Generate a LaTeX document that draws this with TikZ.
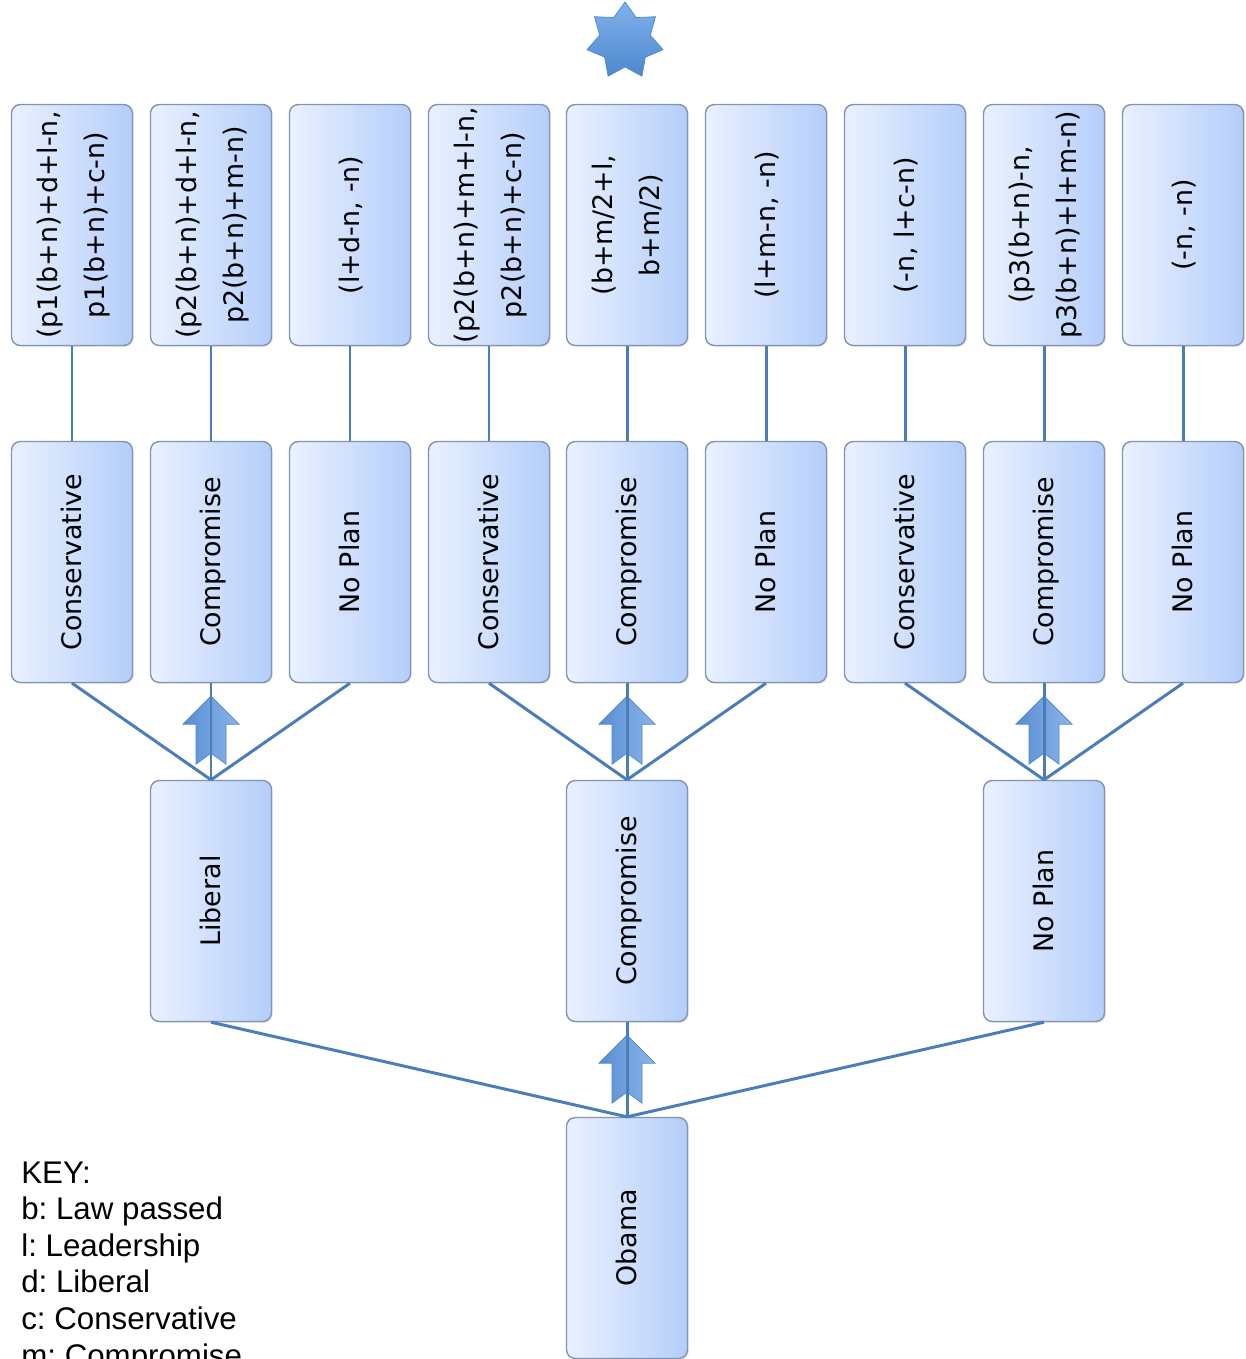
\documentclass[tikz,border=0pt]{standalone}
\usepackage{fontspec}
\usetikzlibrary{shapes.geometric,shadows}
\newfontfamily\boxfont{DejaVu Sans}
\newfontfamily\keyfont{Liberation Sans}
\frenchspacing
\definecolor{boxL}{RGB}{234,241,255}
\definecolor{boxR}{RGB}{180,206,250}
\definecolor{boxE}{RGB}{130,148,178}
\definecolor{linkB}{RGB}{74,125,185}
\definecolor{arrL}{RGB}{88,140,210}
\definecolor{arrR}{RGB}{140,182,234}
\definecolor{starT}{RGB}{128,178,236}
\definecolor{starB}{RGB}{78,136,206}
\newcommand{\vlab}[1]{\rotatebox{90}{\begin{tabular}{@{}c@{}}#1\end{tabular}}}

\begin{document}
\begin{tikzpicture}[x=0.02cm,y=-0.02cm,
  box/.style={draw=boxE,line width=0.8pt,rounded corners=5pt,left color=boxL,right color=boxR,
    minimum width=2.42cm,minimum height=4.82cm,inner sep=0pt,
    font=\boxfont\fontsize{15.3}{26.7}\selectfont,
    drop shadow={opacity=0.18,shadow xshift=0.8pt,shadow yshift=-0.8pt}},
  link/.style={linkB,line width=1.7pt},
  pick/.style={left color=arrL,right color=arrR,draw=starB,line width=0.4pt},
  keyline/.style={anchor=base west,inner sep=0pt,font=\keyfont\fontsize{17.8}{21}\selectfont}]
\useasboundingbox (0,0) rectangle (1246,1359);
% goal
\node[star,star points=7,star point ratio=1.5,minimum size=1.56cm,inner sep=0pt,
  top color=starT,bottom color=starB,draw=starB,line width=0.4pt] (goal) at (625,41) {};
% payoffs
\node[box] (u1) at (72,225) {\vlab{(p1(b+n)+d+l-n,\\ p1(b+n)+c-n)}};
\node[box] (u2) at (211,225) {\vlab{(p2(b+n)+d+l-n,\\ p2(b+n)+m-n)}};
\node[box] (u3) at (350,225) {\vlab{(l+d-n, -n)}};
\node[box] (u4) at (489,225) {\vlab{(p2(b+n)+m+l-n,\\ p2(b+n)+c-n)}};
\node[box] (u5) at (627,225) {\vlab{(b+m/2+l,\\ b+m/2)}};
\node[box] (u6) at (766,225) {\vlab{(l+m-n, -n)}};
\node[box] (u7) at (905,225) {\vlab{(-n, l+c-n)}};
\node[box] (u8) at (1044,225) {\vlab{(p3(b+n)-n,\\ p3(b+n)+l+m-n)}};
\node[box] (u9) at (1183,225) {\vlab{(-n, -n)}};
% responses
\node[box] (r1) at (72,562) {\vlab{Conservative}};
\node[box] (r2) at (211,562) {\vlab{Compromise}};
\node[box] (r3) at (350,562) {\vlab{No Plan}};
\node[box] (r4) at (489,562) {\vlab{Conservative}};
\node[box] (r5) at (627,562) {\vlab{Compromise}};
\node[box] (r6) at (766,562) {\vlab{No Plan}};
\node[box] (r7) at (905,562) {\vlab{Conservative}};
\node[box] (r8) at (1044,562) {\vlab{Compromise}};
\node[box] (r9) at (1183,562) {\vlab{No Plan}};
% Obama's moves
\node[box] (o1) at (211,901) {\vlab{Liberal}};
\node[box] (o2) at (627,901) {\vlab{Compromise}};
\node[box] (o3) at (1044,901) {\vlab{No Plan}};
\node[box] (obama) at (627,1238) {\vlab{Obama}};
% chosen moves
\foreach \a in {r2,r5,r8,o2}
  \draw[pick] ([yshift=-0.26cm]\a.south) -- ++(28,28) -- ++(-13,0) -- ++(0,40) -- ++(-15,-11)
    -- ++(-15,11) -- ++(0,-40) -- ++(-13,0) -- cycle;
% links
\foreach \i in {1,...,9} \draw[link] (u\i) -- (r\i);
\foreach \i/\j in {1/1,2/1,3/1,4/2,5/2,6/2,7/3,8/3,9/3} \draw[link] (r\i.south) -- (o\j.north);
\foreach \j in {1,2,3} \draw[link] (obama.north) -- (o\j.south);
% key
\foreach \t [count=\i from 0] in {KEY:,b: Law passed,l: Leadership,d: Liberal,c: Conservative,m: Compromise}
  \node[keyline] (key\i) at (21,{1183+36.6*\i}) {\t};
\end{tikzpicture}
\end{document}
